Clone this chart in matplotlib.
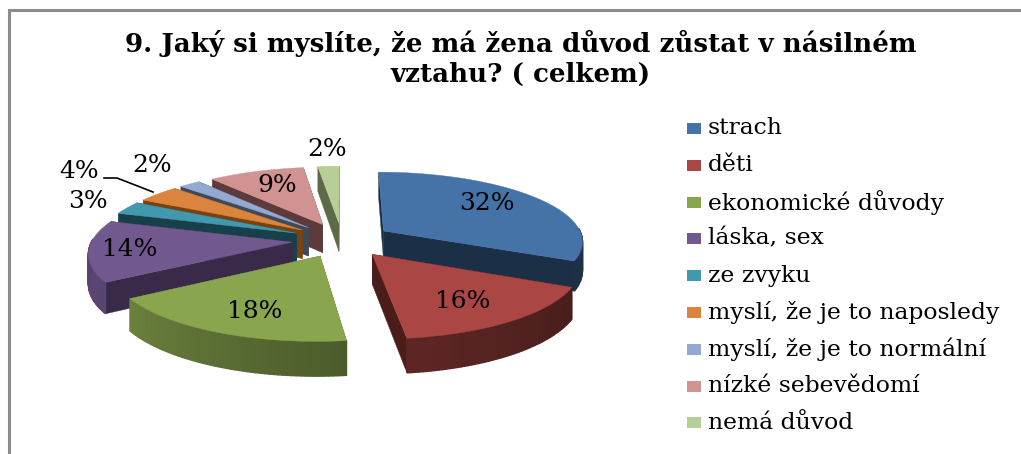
import numpy as np
import matplotlib
matplotlib.use("Agg")
from matplotlib import pyplot as plt
from matplotlib.patches import Polygon, Rectangle

title = "9. Jaký si myslíte, že má žena důvod zůstat v násilném\nvztahu? ( celkem)"
categories = ["strach", "děti", "ekonomické důvody", "láska, sex", "ze zvyku",
              "myslí, že je to naposledy", "myslí, že je to normální",
              "nízké sebevědomí", "nemá důvod"]
values = [32, 16, 18, 14, 3, 4, 2, 9, 2]
colors = ["#4573a7", "#aa4643", "#89a54e", "#71588f", "#4198af",
          "#db843d", "#93a9cf", "#d19392", "#b9cd96"]
side_colors = ["#1b2f47", "#4a1c1a", "#4f5f2c", "#3a2a4a", "#17404b",
               "#7a4210", "#3e4a5c", "#5e3b3b", "#5c6b45"]

W, H = 1021, 454
CX, CY = 342, 240
RX, RY = 200, 69
K = 0.135
DEPTH = 29
EXPLODE = 0.25
SERIF = "DejaVu Serif"


def project(x, y, z=0.0):
    # y is depth on the table (back is positive), z drops the point downwards
    s = 1 / (1 + K * y)
    return CX + RX * x * s, CY - RY * y * s + z * s


def rim_shade(deg):
    # how light the outer rim is around the pie
    deg = deg % 360
    return np.interp(deg, [0, 180, 200, 213, 277, 335, 360],
                     [0.45, 0.75, 0.8, 0.78, 0.55, 0.42, 0.45])


fig = plt.figure(figsize=(W / 100, H / 100), dpi=100)
ax = fig.add_axes([0, 0, 1, 1])
ax.set_xlim(0, W)
ax.set_ylim(H, 0)
ax.axis("off")

# frame
ax.plot([9, 9, W], [H, 10, 10], color="#8c8c8c", lw=2.2, solid_joinstyle="miter")

fracs = np.array(values) / sum(values)
ends = 90 - 360 * np.cumsum(fracs)
starts = ends + 360 * fracs
mids = (starts + ends) / 2
order = np.argsort(-np.sin(np.radians(mids)))

for i in order:
    ox = EXPLODE * np.cos(np.radians(mids[i]))
    oy = EXPLODE * np.sin(np.radians(mids[i]))
    th = np.radians(np.linspace(starts[i], ends[i], 60))
    xs = ox + np.cos(th)
    ys = oy + np.sin(th)

    top = [project(ox, oy)] + [project(a, b) for a, b in zip(xs, ys)]

    # radial walls
    for a, b in [(xs[0], ys[0]), (xs[-1], ys[-1])]:
        wall = [project(ox, oy), project(a, b), project(a, b, DEPTH), project(ox, oy, DEPTH)]
        ax.add_patch(Polygon(wall, closed=True, fc=side_colors[i], ec=side_colors[i], lw=0.3))

    # outer rim in small strips, only the ones that face the viewer
    base = np.array(matplotlib.colors.to_rgb(colors[i]))
    for j in range(len(th) - 1):
        if np.sin((th[j] + th[j + 1]) / 2) > 0.05:
            continue
        strip = [project(xs[j], ys[j]), project(xs[j + 1], ys[j + 1]),
                 project(xs[j + 1], ys[j + 1], DEPTH), project(xs[j], ys[j], DEPTH)]
        c = base * rim_shade(np.degrees((th[j] + th[j + 1]) / 2))
        ax.add_patch(Polygon(strip, closed=True, fc=c, ec=c, lw=1.0))

    ax.add_patch(Polygon(top, closed=True, fc=colors[i], ec=colors[i], lw=0.3))

# percentage labels
label_pos = [(487, 203), (463, 302), (255, 311), (130, 250), (88, 202),
             (79, 172), (152, 165), (277, 185), (327, 149)]
for v, (lx, ly) in zip(values, label_pos):
    ax.text(lx, ly, f"{v}%", family=SERIF, fontsize=18, ha="center", va="center", color="black")

# leader line for the 4% label
ax.plot([104, 117, 153], [178, 178, 192], color="black", lw=1.2)

ax.text(521, 58, title, family=SERIF, fontweight="bold", fontsize=18.8,
        ha="center", va="center", linespacing=1.25, color="black")

# legend
for n, (name, c) in enumerate(zip(categories, colors)):
    ly = 128.5 + n * 36.8
    ax.add_patch(Rectangle((687, ly - 5.5), 14, 11, fc=c, ec="none"))
    ax.text(708, ly, name, family=SERIF, fontsize=16.9, ha="left", va="center", color="black")

fig.savefig("out.png", dpi=100)
